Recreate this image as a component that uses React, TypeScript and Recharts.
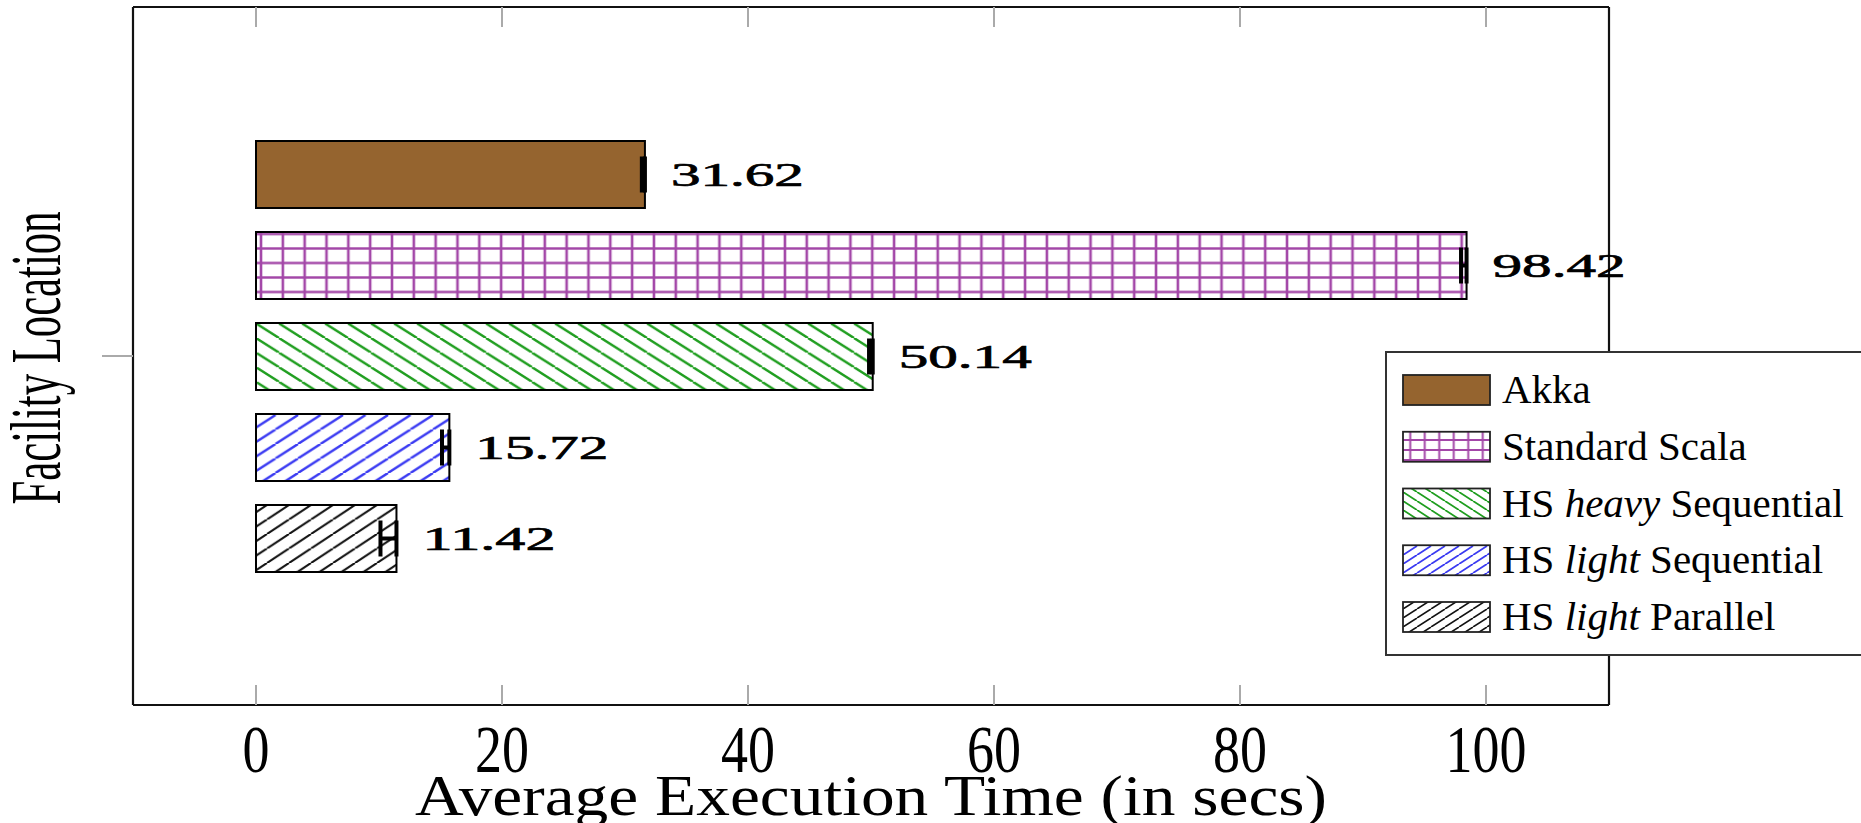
import React from "react";
import { BarChart, Bar, XAxis, YAxis, ErrorBar, LabelList } from "recharts";

const categories = ["Facility Location"];
const seriesKeys = ["akka", "scala", "heavySeq", "lightSeq", "lightPar"];
const seriesLabels = [
  ["Akka"],
  ["Standard Scala"],
  ["HS ", "heavy", " Sequential"],
  ["HS ", "light", " Sequential"],
  ["HS ", "light", " Parallel"],
];
const meanTimes = [31.62, 98.42, 50.14, 15.72, 11.42];
const lowerErrors = [0.25, 0.45, 0.3, 0.6, 1.3];
const xTicks = [0, 20, 40, 60, 80, 100];

const data = categories.map((name) => {
  const row: Record<string, any> = { name };
  seriesKeys.forEach((k, i) => {
    row[k] = meanTimes[i];
    row[k + "Err"] = [lowerErrors[i], 0];
  });
  return row;
});

const SERIF = "'Liberation Serif', 'Times New Roman', serif";
const fills = ["#95642F", "url(#gridPurple)", "url(#nwGreen)", "url(#neBlue)", "url(#neBlack)"];
const legendFills = ["#95642F", "url(#lgGrid)", "url(#lgGreen)", "url(#lgBlue)", "url(#lgBlack)"];

function hatch(id: string, dir: "nw" | "ne", color: string, w: number, h: number, sw: number, x = 0, y = 0) {
  const d =
    dir === "nw"
      ? `M${-w},0 L0,${h} M0,0 L${w},${h} M${w},0 L${2 * w},${h}`
      : `M${-w},${h} L0,0 M0,${h} L${w},0 M${w},${h} L${2 * w},0`;
  return (
    <pattern id={id} patternUnits="userSpaceOnUse" width={w} height={h} x={x} y={y}>
      <rect width={w} height={h} fill="#fff" />
      <path d={d} stroke={color} strokeWidth={sw} fill="none" />
    </pattern>
  );
}

function grid(id: string, color: string, w: number, h: number, sw: number, x = 0, y = 0) {
  return (
    <pattern id={id} patternUnits="userSpaceOnUse" width={w} height={h} x={x} y={y}>
      <rect width={w} height={h} fill="#fff" />
      <path d={`M${w / 2},0 V${h} M0,${h / 2} H${w}`} stroke={color} strokeWidth={sw} fill="none" />
    </pattern>
  );
}

const ValueLabel = (props: any) => {
  const vb = props.viewBox || props;
  const { x, y, width, height } = vb;
  const v = Number(props.value);
  return (
    <text
      x={x + width + 26}
      y={y + height / 2 + 11.5}
      fontFamily={SERIF}
      fontSize={34}
      fill="#000"
      stroke="#000"
      strokeWidth={0.7}
      textLength={133}
      lengthAdjust="spacingAndGlyphs"
    >
      {v.toFixed(2)}
    </text>
  );
};

// tick labels in the original are tall and narrow
const XTick = (props: any) => {
  const { x, y, payload } = props;
  const s = String(payload.value);
  return (
    <text
      x={x}
      y={y + 67}
      textAnchor="middle"
      fontFamily={SERIF}
      fontSize={68}
      fill="#000"
      textLength={s.length * 27}
      lengthAdjust="spacingAndGlyphs"
    >
      {s}
    </text>
  );
};

const NoTick = () => <g />;

export default function App() {
  return (
    <div style={{ position: "absolute", left: 0, top: 0, width: 1861, height: 823, background: "#fff" }}>
      <BarChart
        width={1861}
        height={823}
        data={data}
        layout="vertical"
        margin={{ top: 0, right: 251, bottom: 0, left: 0 }}
        barSize={67}
        barGap={24}
      >
        <defs>
          {grid("gridPurple", "#A347A8", 21.83, 14.5, 2.6, 261 - 10.9, 234 - 7.25)}
          {hatch("nwGreen", "nw", "#1F9E1F", 23, 14.6, 2.4, 256, 338)}
          {hatch("neBlue", "ne", "#3A3AF2", 22.5, 14.5, 2.4, 388 - 22.5, 415)}
          {hatch("neBlack", "ne", "#111", 22, 14.5, 2.1, 355 - 22, 505)}
        </defs>
        <XAxis
          xAxisId="top"
          orientation="top"
          type="number"
          domain={[-10, 110]}
          ticks={xTicks}
          allowDataOverflow
          height={7}
          tick={<NoTick />}
          tickSize={-20}
          tickLine={{ stroke: "#aaa", strokeWidth: 2 }}
          axisLine={{ stroke: "#111", strokeWidth: 2.2 }}
        />
        <XAxis
          type="number"
          domain={[-10, 110]}
          ticks={xTicks}
          allowDataOverflow
          height={118}
          tickSize={-20}
          tickMargin={20}
          tick={<XTick />}
          tickLine={{ stroke: "#aaa", strokeWidth: 2 }}
          axisLine={{ stroke: "#111", strokeWidth: 2.2 }}
        />
        <YAxis
          type="category"
          dataKey="name"
          width={133}
          tick={<NoTick />}
          tickSize={31}
          tickLine={{ stroke: "#aaa", strokeWidth: 2 }}
          axisLine={{ stroke: "#111", strokeWidth: 2.2 }}
        />
        <YAxis
          yAxisId="right"
          orientation="right"
          type="category"
          dataKey="name"
          width={1}
          tick={<NoTick />}
          tickLine={false}
          axisLine={{ stroke: "#111", strokeWidth: 2.2 }}
        />
        {seriesKeys.map((k, i) => (
          <Bar key={k} dataKey={k} fill={fills[i]} stroke="#000" strokeWidth={2} isAnimationActive={false}>
            <ErrorBar dataKey={k + "Err"} direction="x" width={18} strokeWidth={4} stroke="#000" />
            <LabelList dataKey={k} content={<ValueLabel />} />
          </Bar>
        ))}
      </BarChart>

      <svg
        width={1861}
        height={823}
        style={{ position: "absolute", left: 0, top: 0, pointerEvents: "none" }}
      >
        <defs>
          {grid("lgGrid", "#A347A8", 14.5, 10, 2, 1403, 375)}
          {hatch("lgGreen", "nw", "#1F9E1F", 14, 9, 1.8, 1403, 375)}
          {hatch("lgBlue", "ne", "#3A3AF2", 14, 9, 1.8, 1403, 375)}
          {hatch("lgBlack", "ne", "#111", 14, 9, 1.6, 1403, 375)}
        </defs>
        <text
          transform="translate(60,358) rotate(-90)"
          textAnchor="middle"
          fontFamily={SERIF}
          fontSize={71}
          textLength={293}
          lengthAdjust="spacingAndGlyphs"
          fill="#000"
        >
          Facility Location
        </text>
        <text
          x={871}
          y={815}
          textAnchor="middle"
          fontFamily={SERIF}
          fontSize={56}
          textLength={912}
          lengthAdjust="spacingAndGlyphs"
          fill="#000"
        >
          Average Execution Time (in secs)
        </text>

        <rect x={1386} y={352} width={500} height={303} fill="#fff" stroke="#333" strokeWidth={2} />
        {seriesLabels.map((parts, i) => {
          const cy = 390 + i * 56.75;
          return (
            <g key={i}>
              <rect x={1403} y={cy - 15} width={87} height={30} fill={legendFills[i]} stroke="#222" strokeWidth={1.8} />
              <text x={1502} y={cy + 13} fontFamily={SERIF} fontSize={41} fill="#000">
                {parts.map((p, j) => (
                  <tspan key={j} fontStyle={j === 1 ? "italic" : "normal"}>
                    {p}
                  </tspan>
                ))}
              </text>
            </g>
          );
        })}
      </svg>
    </div>
  );
}
